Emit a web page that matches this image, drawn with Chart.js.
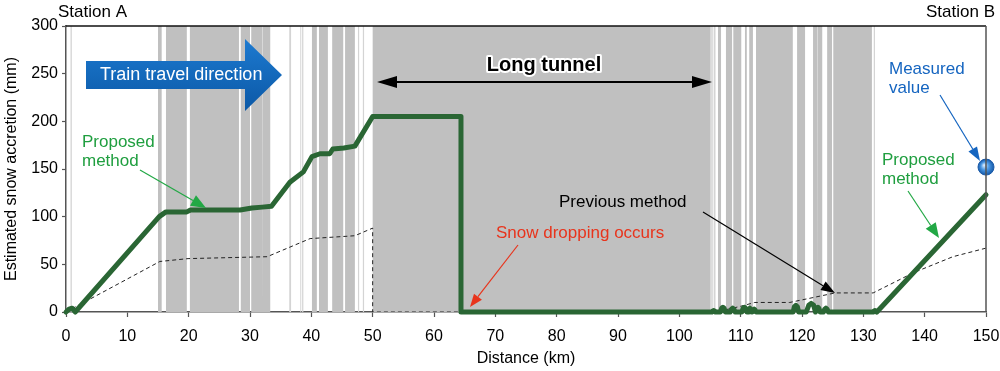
<!DOCTYPE html>
<html lang="en">
<head>
<meta charset="UTF-8">
<script src="https://cdn.jsdelivr.net/npm/chart.js"></script>
<title>Estimated snow accretion</title>
<style>
  body { margin: 0; background: #fff; }
  #wrap { width: 1000px; height: 371px; }
</style>
</head>
<body>
<div id="wrap"><canvas id="snowChart" width="1000" height="371"></canvas></div>
<script>
// tunnel sections along the line (km)
const tunnelStart = [15.0, 16.3, 20.2, 28.5, 30.2, 32.1, 40.1, 41.25, 43.4, 45.5, 50.0, 106.3, 107.6, 108.8, 110.7, 111.4, 112.5, 119.2, 121.8, 122.6, 124.1, 125.1];
const tunnelEnd   = [15.6, 19.7, 28.2, 30.0, 32.0, 33.3, 40.9, 42.7, 45.2, 47.1, 105.1, 106.8, 108.6, 110.1, 111.0, 112.0, 118.5, 120.5, 122.5, 123.3, 124.9, 131.4];
// short sheds, drawn lighter
const shedStart = [0.7, 36.4, 38.2, 38.5, 47.6, 48.4, 105.2, 105.6, 131.7];
const shedEnd   = [0.95, 36.7, 38.35, 38.7, 47.8, 48.6, 105.45, 105.9, 131.9];

// proposed method (mm)
const propX = [0, 0.5, 1.0, 1.5, 15.2, 16.3, 19.7, 20.3, 28.4, 30.3, 32.0, 33.5, 36.5, 38.7, 40.1, 41.4, 43.0, 43.5, 45.3, 47.1, 50.0, 64.4, 64.4,
  105.3, 105.45, 105.6, 105.75, 105.9,
  106.7, 106.9, 107.1, 107.3, 107.5,
  108.3, 108.5, 108.7, 108.9, 109.1,
  110.2, 110.4, 110.6, 110.8, 111.0,
  111.2, 111.35, 111.5, 111.65, 111.8,
  111.9, 112.05, 112.2, 112.35, 112.5,
  118.55, 118.75, 119.0, 119.25, 119.45,
  120.7, 121.1, 121.5, 121.9, 122.2,
  122.25, 122.45, 122.6, 122.75, 122.95,
  123.5, 123.7, 123.9, 124.1, 124.3,
  131.6, 131.75, 131.9, 132.05, 132.2, 150];
const propY = [0, 3, 4, 0, 100, 105, 105, 107, 107, 109, 110, 111, 136, 147, 163, 166, 166, 171, 172, 174, 205, 205, 0,
  0, 1.1, 1.5, 1.1, 0,
  0, 4, 5, 4, 0,
  0, 3, 4, 3, 0,
  0, 4, 5, 4, 0,
  0, 3, 4, 3, 0,
  0, 2.2, 3, 2.2, 0,
  0, 5.5, 7, 5.5, 0,
  0, 7, 9, 7, 0,
  0, 4, 5, 4, 0,
  0, 3, 4, 3, 0,
  0, 1.1, 1.5, 1.1, 0, 123];

// previous method (mm)
const prevX = [0, 15.3, 19.9, 32.8, 39.8, 44.7, 47.1, 50.0, 50.0, 105.5, 108.0, 110.0, 112.3, 118.0, 125.4, 131.6, 138.1, 144.6, 150];
const prevY = [0, 53, 56, 58, 77, 79, 80, 88, 0, 0, 3, 6, 10, 10, 20, 20, 41, 58, 67];

// measured value at station B
const measuredX = [150];
const measuredY = [152];

const xMin = 0, xMax = 150, xStep = 10;
const yMin = 0, yMax = 300, yStep = 50;

const FONT = "'Liberation Sans', Arial, sans-serif";

function bandPoints(starts, ends) {
  const pts = [];
  starts.forEach((a, i) => {
    pts.push({x: a, y: 0}, {x: a, y: yMax}, {x: ends[i], y: yMax}, {x: ends[i], y: 0});
  });
  return pts;
}

function toPoints(xs, ys) {
  return xs.map((x, i) => ({x: x, y: ys[i]}));
}

function arrow(ctx, x1, y1, x2, y2, color, width, headLen, headW) {
  const a = Math.atan2(y2 - y1, x2 - x1);
  const bx = x2 - headLen * Math.cos(a), by = y2 - headLen * Math.sin(a);
  ctx.save();
  ctx.strokeStyle = color;
  ctx.fillStyle = color;
  ctx.lineWidth = width;
  ctx.beginPath();
  ctx.moveTo(x1, y1);
  ctx.lineTo(bx, by);
  ctx.stroke();
  ctx.beginPath();
  ctx.moveTo(x2, y2);
  ctx.lineTo(bx + headW * Math.sin(a), by - headW * Math.cos(a));
  ctx.lineTo(bx - headW * Math.sin(a), by + headW * Math.cos(a));
  ctx.closePath();
  ctx.fill();
  ctx.restore();
}

function text(ctx, str, x, y, color, font, align) {
  ctx.save();
  ctx.font = font;
  ctx.fillStyle = color;
  ctx.textAlign = align || 'left';
  ctx.textBaseline = 'middle';
  ctx.fillText(str, x, y);
  ctx.restore();
}

// labels, arrows and the frame
const annotations = {
  id: 'annotations',
  afterDraw(chart) {
    const ctx = chart.ctx;
    const area = chart.chartArea;

    // frame top / right
    ctx.save();
    ctx.strokeStyle = '#111';
    ctx.lineWidth = 1.5;
    ctx.beginPath();
    ctx.moveTo(area.left, area.top);
    ctx.lineTo(area.right, area.top);
    ctx.stroke();
    ctx.strokeStyle = '#555';
    ctx.beginPath();
    ctx.moveTo(area.right, area.top);
    ctx.lineTo(area.right, area.bottom);
    ctx.stroke();
    ctx.restore();

    text(ctx, 'Station A', 58, 12, '#000', '17px ' + FONT);
    text(ctx, 'Station B', 995, 12, '#000', '17px ' + FONT, 'right');

    // train direction arrow
    ctx.save();
    const g = ctx.createLinearGradient(0, 39, 0, 111);
    g.addColorStop(0, '#1d7ad0');
    g.addColorStop(1, '#0b58a6');
    ctx.fillStyle = g;
    ctx.beginPath();
    ctx.moveTo(86, 61);
    ctx.lineTo(245, 61);
    ctx.lineTo(245, 39);
    ctx.lineTo(282, 75);
    ctx.lineTo(245, 111);
    ctx.lineTo(245, 89);
    ctx.lineTo(86, 89);
    ctx.closePath();
    ctx.fill();
    ctx.restore();
    text(ctx, 'Train travel direction', 100, 75, '#fff', '18px ' + FONT);

    // long tunnel
    ctx.save();
    ctx.font = 'bold 20px ' + FONT;
    ctx.textAlign = 'center';
    ctx.textBaseline = 'middle';
    ctx.lineJoin = 'round';
    ctx.strokeStyle = '#fff';
    ctx.lineWidth = 4;
    ctx.strokeText('Long tunnel', 544, 65);
    ctx.fillStyle = '#000';
    ctx.fillText('Long tunnel', 544, 65);
    ctx.restore();
    arrow(ctx, 545, 82, 377, 82, '#000', 2, 20, 6);
    arrow(ctx, 540, 82, 712, 82, '#000', 2, 20, 6);

    // proposed method (left)
    text(ctx, 'Proposed', 82, 142, '#1f9e3f', '17px ' + FONT);
    text(ctx, 'method', 82, 161, '#1f9e3f', '17px ' + FONT);
    arrow(ctx, 140, 170, 206, 208, '#22a845', 1.2, 15, 6);

    // snow dropping
    text(ctx, 'Snow dropping occurs', 496, 233, '#e8341c', '17px ' + FONT);
    arrow(ctx, 518, 245, 470, 307, '#e8341c', 1.2, 13, 5);

    // previous method
    text(ctx, 'Previous method', 559, 202, '#000', '17px ' + FONT);
    arrow(ctx, 703, 212, 835, 293, '#000', 1.2, 14, 5);

    // measured value
    text(ctx, 'Measured', 889, 69, '#1565c0', '17px ' + FONT);
    text(ctx, 'value', 889, 88, '#1565c0', '17px ' + FONT);
    arrow(ctx, 940, 95, 980, 161, '#1565c0', 1.2, 14, 5);

    // proposed method (right)
    text(ctx, 'Proposed', 882, 160, '#1f9e3f', '17px ' + FONT);
    text(ctx, 'method', 882, 179, '#1f9e3f', '17px ' + FONT);
    arrow(ctx, 908, 191, 939, 238, '#22a845', 1.2, 15, 6);
  }
};

const ctx = document.getElementById('snowChart').getContext('2d');
const chart = new Chart(ctx, {
  type: 'line',
  data: {
    datasets: [
      {
        label: 'Measured value',
        type: 'scatter',
        data: toPoints(measuredX, measuredY),
        order: 0,
        pointRadius: 8,
        pointBorderWidth: 1,
        pointBorderColor: '#1a5aa8',
        pointBackgroundColor: (c) => {
          const el = c.element;
          if (!el || el.x === undefined) return '#2a7fd4';
          const gr = c.chart.ctx.createRadialGradient(el.x - 2, el.y - 2, 0, el.x, el.y, 8);
          gr.addColorStop(0, '#e4f2ff');
          gr.addColorStop(0.5, '#4a98e4');
          gr.addColorStop(1, '#1458a8');
          return gr;
        },
        clip: false
      },
      {
        label: 'Proposed method',
        data: toPoints(propX, propY),
        order: 1,
        borderColor: '#2a6634',
        borderWidth: 5,
        pointRadius: 0,
        tension: 0,
        borderJoinStyle: 'round',
        borderCapStyle: 'round',
        fill: false,
        clip: 6
      },
      {
        label: 'Previous method',
        data: toPoints(prevX, prevY),
        order: 2,
        borderColor: '#222',
        borderWidth: 1,
        borderDash: [4, 3],
        pointRadius: 0,
        tension: 0,
        fill: false
      },
      {
        label: 'Sheds',
        data: bandPoints(shedStart, shedEnd),
        order: 3,
        borderColor: 'rgba(0,0,0,0)',
        borderWidth: 0,
        backgroundColor: '#d4d4d4',
        pointRadius: 0,
        tension: 0,
        fill: 'origin'
      },
      {
        label: 'Tunnels',
        data: bandPoints(tunnelStart, tunnelEnd),
        order: 4,
        borderColor: 'rgba(0,0,0,0)',
        borderWidth: 0,
        backgroundColor: '#c0c0c0',
        pointRadius: 0,
        tension: 0,
        fill: 'origin'
      }
    ]
  },
  options: {
    responsive: false,
    animation: false,
    layout: { padding: { top: 26, right: 14, left: 0, bottom: 0 } },
    plugins: {
      legend: { display: false },
      tooltip: { enabled: false }
    },
    scales: {
      x: {
        type: 'linear',
        min: xMin,
        max: xMax,
        afterFit: (s) => { s.height = 59; s.paddingRight = 14; s.paddingLeft = 0; },
        ticks: { stepSize: xStep, maxRotation: 0, color: '#000', font: { family: FONT, size: 16 }, padding: 10 },
        grid: { drawOnChartArea: false, tickLength: 5, color: '#555', tickWidth: 1.2 },
        border: { color: '#555', width: 1.5 },
        title: { display: true, text: 'Distance (km)', color: '#000', font: { family: FONT, size: 16 }, padding: { top: 0, bottom: 3 } }
      },
      y: {
        min: yMin,
        max: yMax,
        afterFit: (s) => { s.width = 66; },
        ticks: { stepSize: yStep, color: '#000', font: { family: FONT, size: 16 }, padding: 4 },
        grid: { drawOnChartArea: false, tickLength: 4, color: '#555', tickWidth: 1.2 },
        border: { color: '#555', width: 1.5 },
        title: { display: true, text: 'Estimated snow accretion (mm)', color: '#000', font: { family: FONT, size: 16 }, padding: { top: 2, bottom: 0 } }
      }
    }
  },
  plugins: [annotations]
});
</script>
</body>
</html>
